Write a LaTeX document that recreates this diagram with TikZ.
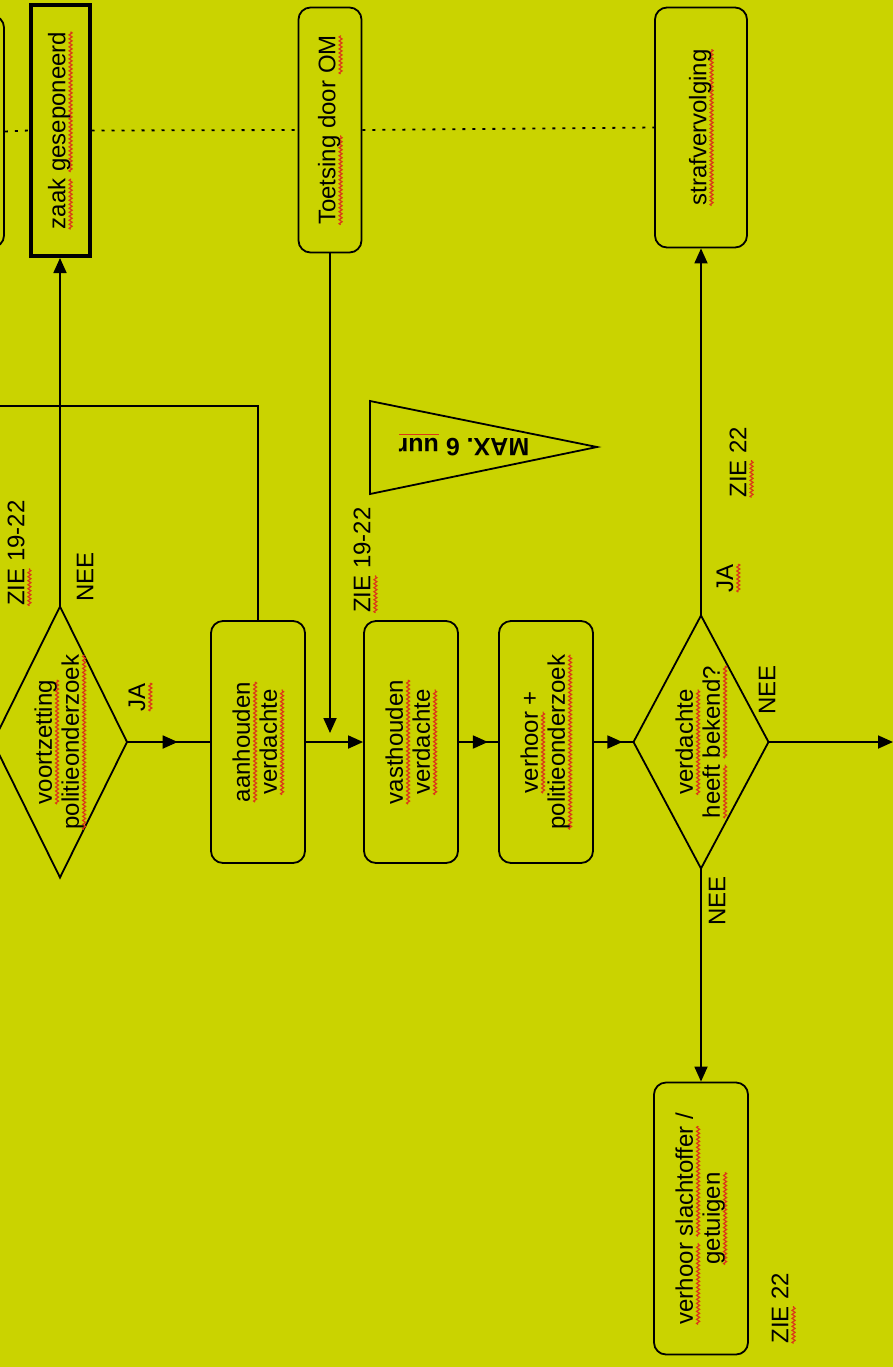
\documentclass[tikz,border=0pt]{standalone}
\usepackage{fontspec}
\setmainfont{Liberation Sans}
\usetikzlibrary{shapes.geometric,arrows.meta,decorations.markings,decorations.pathmorphing}
\definecolor{bgyellow}{RGB}{202,211,0}
\definecolor{spellred}{RGB}{220,55,25}
\newcommand{\vtxt}[1]{\rotatebox{90}{\begin{tabular}{@{}c@{}}#1\end{tabular}}}
% rode kronkel onder een woord
\newcommand{\sq}[1]{\setbox0\hbox{#1}\edef\sqw{\the\wd0}\tikz[overlay,baseline=0pt]{\draw[spellred, sharp corners, line width=0.6pt, decorate, decoration={zigzag, amplitude=0.75pt, segment length=2pt}] (0pt,-2.6pt) -- (\sqw,-2.6pt);}\box0\relax}
\newcommand{\sqline}[1]{\setbox0\hbox{#1}\edef\sqw{\the\wd0}\tikz[overlay,baseline=0pt]{\draw[spellred, sharp corners, line width=0.6pt] (0pt,-1.8pt) -- (\sqw,-1.8pt);}\box0\relax}
\tikzset{
  stap/.style={draw, rounded corners=6pt, line width=0.9pt, minimum width=47pt, minimum height=121pt, inner sep=0pt, font=\fontsize{12}{13.5}\selectfont},
  eind/.style={draw, line width=2pt, minimum width=29.5pt, minimum height=125.5pt, inner sep=0pt, font=\fontsize{12}{13.5}\selectfont},
  keuze/.style={draw, diamond, line width=0.9pt, inner sep=0pt, outer sep=0pt},
  lbl/.style={rotate=90, inner sep=0pt, font=\fontsize{12}{13.5}\selectfont},
  pijl/.style={line width=0.9pt, -{Triangle[length=7.5pt,width=6.5pt]}},
  pijlop/.style={line width=0.9pt, postaction={decorate}, decoration={markings, mark=at position #1 with {\arrow{Triangle[length=7.5pt,width=6.5pt]}}}},
  stip/.style={line width=0.9pt, dash pattern=on 1.5pt off 3.5pt}
}
\begin{document}
\begin{tikzpicture}[x=0.5pt, y=-0.5pt]
  \useasboundingbox (0,0) rectangle (893,1367);
  \fill[bgyellow] (0,0) rectangle (893,1367);
  \clip (0,0) rectangle (893,1367);

  % bovenste rij
  \node[stap, minimum width=44pt, minimum height=116pt] (vorige) at (-40,131.5) {};
  \node[eind] (zaak) at (60,130.5) {\vtxt{\sq{zaak} \sq{geseponeerd}}};
  \node[stap, minimum width=31.5pt, minimum height=122.5pt] (toets) at (330,130) {\vtxt{\sq{Toetsing} door \sq{OM}}};
  \node[stap, minimum width=46pt, minimum height=120pt] (straf) at (701,127.5) {\vtxt{\sq{strafvervolging}}};
  \draw[stip] (vorige.east) -- (zaak.west) (zaak.east) -- (toets.west) (toets.east) -- (straf.west);

  % hoofdlijn
  \node[keuze, minimum width=67pt, minimum height=135.5pt,
    label={[font=\fontsize{12}{13.5}\selectfont]center:\vtxt{\sq{voortzetting}\\\sq{politieonderzoek}}}] (voort) at (60,742) {};
  \node[stap] (aanh) at (258,742) {\vtxt{\sq{aanhouden}\\\sq{verdachte}}};
  \node[stap] (vast) at (411,742) {\vtxt{\sq{vasthouden}\\\sq{verdachte}}};
  \node[stap] (verh) at (546,742) {\vtxt{\sq{verhoor} +\\\sq{politieonderzoek}}};
  \node[keuze, minimum width=67.5pt, minimum height=126.5pt,
    label={[font=\fontsize{12}{13.5}\selectfont]center:\vtxt{\sq{verdachte}\\\sq{heeft} \sq{bekend?}}}] (bekend) at (701,742) {};
  \node[stap, minimum height=136pt] (slacht) at (701,1218.5) {\vtxt{\sq{verhoor} \sq{slachtoffer} /\\\sq{getuigen}}};

  \coordinate (links) at (-10,406);
  \coordinate (toetsin) at (330,733);
  \coordinate (rechts) at (893,742);

  \draw[pijl] (voort.north) -- (zaak.south);
  \draw[line width=0.9pt] (aanh.north) |- (links);
  \draw[pijl] (toets.south) -- (toetsin);
  \draw[pijlop=0.61] (voort.east) -- (aanh.west);
  \draw[pijl] (aanh.east) -- (vast.west);
  \draw[pijlop=0.74] (vast.east) -- (verh.west);
  \draw[pijlop=0.72] (verh.east) -- (bekend.west);
  \draw[pijl] (bekend.east) -- (rechts);
  \draw[pijl] (bekend.north) -- (straf.south);
  \draw[pijl] (bekend.south) -- (slacht.north);

  % vaantje
  \draw[line width=0.9pt] (370,401) -- (370,494) -- (597,447) -- cycle;
  \node[rotate=180, inner sep=0pt, font=\bfseries\fontsize{12.5}{14}\selectfont] (max) at (464,447)
    {MAX. 6 \sqline{uur}};

  % labels
  \node[lbl] (zie1) at (16,553) {\sq{ZIE} 19-22};
  \node[lbl] (nee1) at (85,577) {NEE};
  \node[lbl] (ja1) at (137,697) {\sq{JA}};
  \node[lbl] (zie2) at (362,560) {\sq{ZIE} 19-22};
  \node[lbl] (ja2) at (725,578) {\sq{JA}};
  \node[lbl] (zie3) at (738,462) {\sq{ZIE} 22};
  \node[lbl] (nee2) at (767,690) {NEE};
  \node[lbl] (nee3) at (717,901) {NEE};
  \node[lbl] (zie4) at (780,1308) {\sq{ZIE} 22};
\end{tikzpicture}
\end{document}
